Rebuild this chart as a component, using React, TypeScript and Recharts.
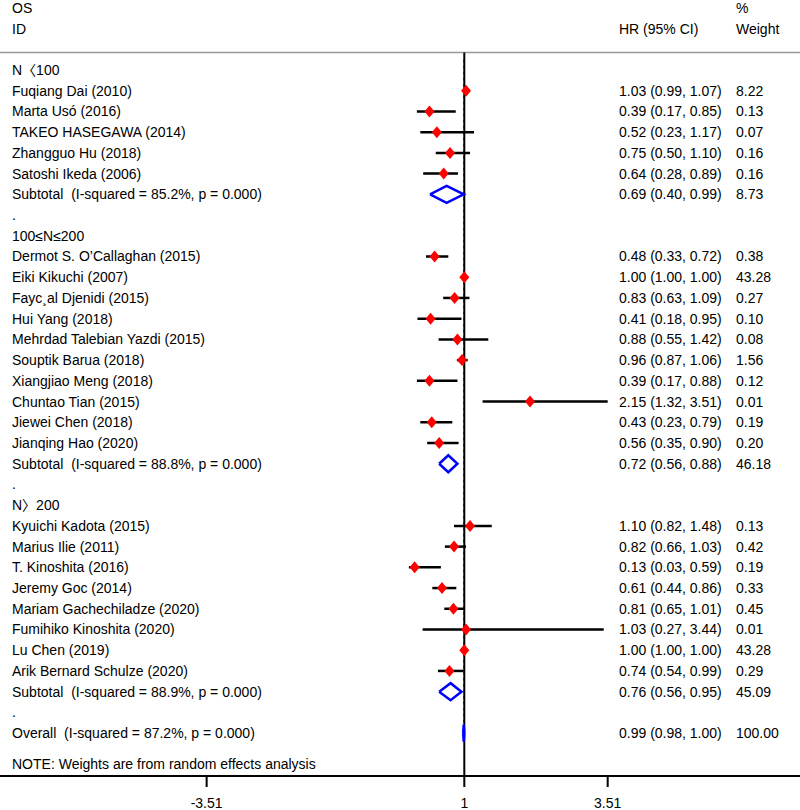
import React from 'react';
import { ScatterChart, Scatter, XAxis, YAxis, ReferenceLine } from 'recharts';

// ---- Data ----
const groupLabels = ['N〈100', '100≤N≤200', 'N〉200'];
const groupSizes = [5, 10, 8];

const studyNames = [
  'Fuqiang Dai (2010)', 'Marta Usó (2016)', 'TAKEO HASEGAWA (2014)', 'Zhangguo Hu (2018)', 'Satoshi Ikeda (2006)',
  'Dermot S. O’Callaghan (2015)', 'Eiki Kikuchi (2007)', 'Fayc¸al Djenidi (2015)', 'Hui Yang (2018)',
  'Mehrdad Talebian Yazdi (2015)', 'Souptik Barua (2018)', 'Xiangjiao Meng (2018)', 'Chuntao Tian (2015)',
  'Jiewei Chen (2018)', 'Jianqing Hao (2020)',
  'Kyuichi Kadota (2015)', 'Marius Ilie (2011)', 'T. Kinoshita (2016)', 'Jeremy Goc (2014)',
  'Mariam Gachechiladze (2020)', 'Fumihiko Kinoshita (2020)', 'Lu Chen (2019)', 'Arik Bernard Schulze (2020)',
];
const studyHR = [1.03, 0.39, 0.52, 0.75, 0.64, 0.48, 1.0, 0.83, 0.41, 0.88, 0.96, 0.39, 2.15, 0.43, 0.56, 1.1, 0.82, 0.13, 0.61, 0.81, 1.03, 1.0, 0.74];
const studyLo = [0.99, 0.17, 0.23, 0.5, 0.28, 0.33, 1.0, 0.63, 0.18, 0.55, 0.87, 0.17, 1.32, 0.23, 0.35, 0.82, 0.66, 0.03, 0.44, 0.65, 0.27, 1.0, 0.54];
const studyHi = [1.07, 0.85, 1.17, 1.1, 0.89, 0.72, 1.0, 1.09, 0.95, 1.42, 1.06, 0.88, 3.51, 0.79, 0.9, 1.48, 1.03, 0.59, 0.86, 1.01, 3.44, 1.0, 0.99];
const studyWeight = [8.22, 0.13, 0.07, 0.16, 0.16, 0.38, 43.28, 0.27, 0.1, 0.08, 1.56, 0.12, 0.01, 0.19, 0.2, 0.13, 0.42, 0.19, 0.33, 0.45, 0.01, 43.28, 0.29];

const subtotalI2 = ['85.2%', '88.8%', '88.9%'];
const subtotalHR = [0.69, 0.72, 0.76];
const subtotalLo = [0.4, 0.56, 0.56];
const subtotalHi = [0.99, 0.88, 0.95];
const subtotalWeight = [8.73, 46.18, 45.09];

const overallI2 = '87.2%';
const overallHR = 0.99;
const overallLo = 0.98;
const overallHi = 1.0;
const overallWeight = 100.0;

const xTicks = [-3.51, 1, 3.51];
const xTickLabels = ['-3.51', '1', '3.51'];

// ---- Layout constants ----
const W = 800;
const H = 810;
const FONT = '"Liberation Sans", Arial, "Noto Sans CJK SC", sans-serif';
const Y_DOMAIN: [number, number] = [-3.378, 34.07];
const X_DOMAIN: [number, number] = [-7.127, 6.876];
const COL_LEFT = 12;
const COL_HR = 619;
const COL_W = 736;
const DIAMOND_H = 0.41;

const f2 = (v: number) => v.toFixed(2);
const ci = (h: number, l: number, u: number) => `${f2(h)} (${f2(l)}, ${f2(u)})`;

type TextRow = { x: number; y: number; left?: string; hr?: string; w?: string };
type StudyPt = { x: number; y: number; lo: number; hi: number };

const textRows: TextRow[] = [
  { x: 1, y: -3, left: 'OS', w: '%' },
  { x: 1, y: -2, left: 'ID', hr: 'HR (95% CI)', w: 'Weight' },
];
const studies: StudyPt[] = [];
const subtotals: { row: number; hr: number; lo: number; hi: number }[] = [];

let r = 0;
let si = 0;
groupSizes.forEach((n, g) => {
  textRows.push({ x: 1, y: r, left: groupLabels[g] });
  r++;
  for (let k = 0; k < n; k++) {
    textRows.push({ x: 1, y: r, left: studyNames[si], hr: ci(studyHR[si], studyLo[si], studyHi[si]), w: f2(studyWeight[si]) });
    studies.push({ x: studyHR[si], y: r, lo: studyLo[si], hi: studyHi[si] });
    si++;
    r++;
  }
  textRows.push({
    x: 1,
    y: r,
    left: `Subtotal  (I-squared = ${subtotalI2[g]}, p = 0.000)`,
    hr: ci(subtotalHR[g], subtotalLo[g], subtotalHi[g]),
    w: f2(subtotalWeight[g]),
  });
  subtotals.push({ row: r, hr: subtotalHR[g], lo: subtotalLo[g], hi: subtotalHi[g] });
  r++;
  textRows.push({ x: 1, y: r, left: '.' });
  r++;
});
const overallRow = r;
textRows.push({
  x: 1,
  y: overallRow,
  left: `Overall  (I-squared = ${overallI2}, p = 0.000)`,
  hr: ci(overallHR, overallLo, overallHi),
  w: f2(overallWeight),
});
subtotals.push({ row: overallRow, hr: overallHR, lo: overallLo, hi: overallHi });
const noteRow = overallRow + 1.5;
textRows.push({ x: 1, y: noteRow, left: 'NOTE: Weights are from random effects analysis' });

const diamondData = subtotals.map((s) => [
  { x: s.lo, y: s.row },
  { x: s.hr, y: s.row - DIAMOND_H },
  { x: s.hi, y: s.row },
  { x: s.hr, y: s.row + DIAMOND_H },
  { x: s.lo, y: s.row },
]);

const textStyle = { fontFamily: FONT, fontSize: 14, fill: '#000', whiteSpace: 'pre' as const };

const RowText = (props: any) => {
  const { cy, payload } = props;
  if (cy == null || !payload) return null;
  return (
    <g>
      {payload.left && (
        <text x={COL_LEFT} y={cy} dy={5} style={textStyle} textAnchor="start">
          {payload.left}
        </text>
      )}
      {payload.hr && (
        <text x={COL_HR} y={cy} dy={5} style={textStyle} textAnchor="start">
          {payload.hr}
        </text>
      )}
      {payload.w && (
        <text x={COL_W} y={cy} dy={5} style={textStyle} textAnchor="start">
          {payload.w}
        </text>
      )}
    </g>
  );
};

const XTick = (props: any) => {
  const { x, y, payload } = props;
  const idx = xTicks.indexOf(payload.value);
  const label = idx >= 0 ? xTickLabels[idx] : String(payload.value);
  return (
    <text x={x} y={y} dy={13} textAnchor="middle" style={textStyle}>
      {label}
    </text>
  );
};

const RedDiamond = (props: any) => {
  const { cx, cy } = props;
  if (cx == null || cy == null) return null;
  const hw = 5;
  const hh = 6;
  return <polygon points={`${cx - hw},${cy} ${cx},${cy - hh} ${cx + hw},${cy} ${cx},${cy + hh}`} fill="#ff0000" />;
};

const NoShape = () => <g />;

export default function App() {
  return (
    <div style={{ position: 'absolute', left: 0, top: 0, width: W, height: H, background: '#fff' }}>
      <ScatterChart width={W} height={H} margin={{ top: 0, right: 0, bottom: 0, left: 0 }}>
        <XAxis
          type="number"
          dataKey="x"
          domain={X_DOMAIN}
          allowDataOverflow
          ticks={xTicks}
          interval={0}
          height={34}
          tickSize={11}
          tickMargin={8}
          axisLine={{ stroke: '#000', strokeWidth: 2 }}
          tickLine={{ stroke: '#000', strokeWidth: 2 }}
          tick={<XTick />}
        />
        <YAxis type="number" dataKey="y" domain={Y_DOMAIN} reversed allowDataOverflow hide />
        <ReferenceLine y={-0.85} stroke="#999" strokeWidth={1.5} />
        <ReferenceLine
          segment={[
            { x: overallHR, y: -0.5 },
            { x: overallHR, y: overallRow + 0.5 },
          ]}
          stroke="#ff0000"
          strokeWidth={1}
          strokeDasharray="3 3"
        />
        <ReferenceLine
          segment={[
            { x: 1, y: -0.85 },
            { x: 1, y: Y_DOMAIN[1] },
          ]}
          stroke="#000"
          strokeWidth={2}
        />
        {studies.map((s, i) => (
          <ReferenceLine
            key={`ci-${i}`}
            segment={[
              { x: s.lo, y: s.y },
              { x: s.hi, y: s.y },
            ]}
            stroke="#000"
            strokeWidth={2.5}
          />
        ))}
        {diamondData.map((d, i) => (
          <Scatter
            key={`dm-${i}`}
            data={d}
            line={{ stroke: '#0000ff', strokeWidth: 2.5 }}
            shape={<NoShape />}
            isAnimationActive={false}
          />
        ))}
        <Scatter data={studies} shape={<RedDiamond />} isAnimationActive={false} />
        <Scatter data={textRows} shape={<RowText />} isAnimationActive={false} />
      </ScatterChart>
    </div>
  );
}
